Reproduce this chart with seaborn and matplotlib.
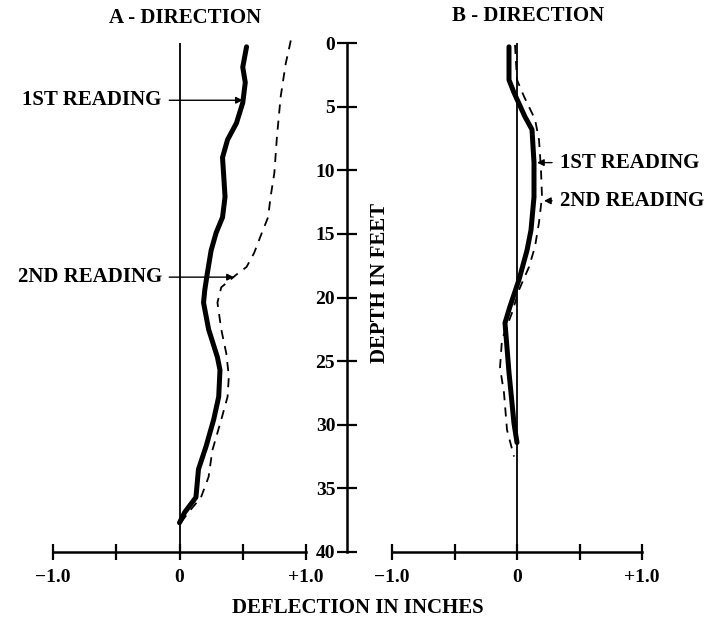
import matplotlib
matplotlib.use("Agg")
import matplotlib.pyplot as plt
import seaborn as sns
import numpy as np

# A - direction, 1st reading (solid)
a1_depth = [0.3, 1.9, 3.1, 4.7, 6.3, 7.6, 9.0, 10.5, 12.1, 13.7, 14.9, 16.3, 18.1, 19.4,
            20.4, 22.5, 24.7, 25.7, 27.8, 29.6, 31.7, 33.5, 35.7, 36.9, 37.7]
a1_defl = [0.53, 0.50, 0.52, 0.50, 0.45, 0.38, 0.34, 0.35, 0.36, 0.34, 0.29, 0.25, 0.22, 0.20,
           0.19, 0.23, 0.30, 0.32, 0.31, 0.27, 0.21, 0.15, 0.13, 0.04, 0.0]

# A - direction, 2nd reading (dashed)
a2_depth = [-0.2, 1.6, 4.2, 7.4, 10.2, 12.1, 13.7, 15.2, 16.5, 17.6, 18.2, 19.2, 20.4,
            22.5, 24.4, 26.2, 27.8, 29.6, 32.0, 34.1, 35.7, 36.9, 37.7]
a2_defl = [0.88, 0.84, 0.80, 0.77, 0.75, 0.72, 0.70, 0.64, 0.59, 0.53, 0.45, 0.33, 0.30,
           0.33, 0.37, 0.39, 0.38, 0.33, 0.26, 0.23, 0.17, 0.07, 0.01]

# B - direction, 1st reading (solid)
b1_depth = [0.3, 2.9, 3.9, 5.8, 6.8, 9.4, 12.1, 14.7, 16.3, 18.6, 20.7, 22.0, 25.9, 29.9, 31.4]
b1_defl = [-0.064, -0.064, -0.024, 0.064, 0.12, 0.136, 0.136, 0.112, 0.08, 0.016, -0.056,
           -0.096, -0.064, -0.024, 0.0]

# B - direction, 2nd reading (dashed)
b2_depth = [0.15, 2.9, 4.2, 6.0, 7.6, 10.0, 12.1, 14.1, 16.0, 17.6, 19.4, 21.2, 23.3, 25.5,
            27.5, 30.4, 32.5]
b2_defl = [-0.016, 0.0, 0.056, 0.144, 0.176, 0.192, 0.2, 0.176, 0.144, 0.096, 0.016, -0.04,
           -0.12, -0.136, -0.104, -0.08, -0.024]

x_ticks = [-1.0, -0.5, 0.0, 0.5, 1.0]
x_tick_labels = ["\u22121.0", "", "0", "", "+1.0"]
depth_ticks = [0, 5, 10, 15, 20, 25, 30, 35, 40]

W, H = 725, 625


def style_panel(ax):
    sns.despine(ax=ax, left=True, top=True, right=True)
    ax.spines["bottom"].set_linewidth(1.8)
    ax.spines["bottom"].set_color("black")
    ax.set_xlim(-1.0, 1.0)
    ax.set_ylim(40, 0)
    ax.set_xticks(x_ticks)
    ax.set_xticklabels(x_tick_labels, fontsize=14, fontweight="bold")
    ax.set_yticks([])
    ax.tick_params(axis="x", bottom=True, direction="inout", length=11, width=1.6,
                   pad=7, color="black", labelcolor="black")
    ax.set_xlabel("")
    ax.set_ylabel("")
    ax.axvline(0, color="black", lw=1.3)
    ax.patch.set_alpha(0)


def main():
    sns.set_style("white")
    plt.rcParams["font.family"] = ["Liberation Serif", "DejaVu Serif"]
    plt.rcParams["font.weight"] = "bold"
    plt.rcParams["text.color"] = "black"

    fig = plt.figure(figsize=(W / 100, H / 100), dpi=100)
    bottom = (H - 552) / H
    height = 509 / H
    axA = fig.add_axes([53 / W, bottom, 253 / W, height])
    axB = fig.add_axes([392 / W, bottom, 250 / W, height])
    axD = fig.add_axes([347 / W, bottom, 0.0005, height])

    solid = dict(color="black", lw=3.6, sort=False, estimator=None, legend=False,
                 solid_joinstyle="round", solid_capstyle="round")
    dashed = dict(color="black", lw=1.3, linestyle=(0, (5, 4)), sort=False,
                  estimator=None, legend=False)

    sns.lineplot(x=a1_defl, y=a1_depth, ax=axA, **solid)
    sns.lineplot(x=a2_defl, y=a2_depth, ax=axA, clip_on=False, **dashed)
    sns.lineplot(x=b1_defl, y=b1_depth, ax=axB, **solid)
    sns.lineplot(x=b2_defl, y=b2_depth, ax=axB, **dashed)

    style_panel(axA)
    style_panel(axB)

    # depth axis in the middle
    sns.despine(ax=axD, left=False, bottom=True, top=True, right=True)
    axD.spines["left"].set_linewidth(1.8)
    axD.spines["left"].set_color("black")
    axD.set_ylim(40, 0)
    axD.set_xticks([])
    axD.set_yticks(depth_ticks)
    axD.set_yticklabels([str(t) for t in depth_ticks], fontsize=14, fontweight="bold")
    axD.tick_params(axis="y", left=True, direction="inout", length=15, width=1.6, pad=1,
                    color="black", labelcolor="black")
    axD.patch.set_alpha(0)

    arrow = dict(arrowstyle="-|>", color="black", lw=1.0, mutation_scale=10,
                 shrinkA=3, shrinkB=0)
    txt = dict(fontsize=15, fontweight="bold", va="center", annotation_clip=False)
    axA.annotate("1ST READING", xy=(0.50, 4.5), xytext=(-0.14, 4.5), ha="right",
                 arrowprops=arrow, **txt)
    axA.annotate("2ND READING", xy=(0.43, 18.4), xytext=(-0.14, 18.4), ha="right",
                 arrowprops=arrow, **txt)
    axB.annotate("1ST READING", xy=(0.16, 9.4), xytext=(0.34, 9.4), ha="left",
                 arrowprops=arrow, **txt)
    axB.annotate("2ND READING", xy=(0.216, 12.4), xytext=(0.34, 12.4), ha="left",
                 arrowprops=arrow, **txt)

    fig.text(185 / W, 1 - 18 / H, "A - DIRECTION", fontsize=15, fontweight="bold",
             ha="center", va="center")
    fig.text(528 / W, 1 - 16 / H, "B - DIRECTION", fontsize=15, fontweight="bold",
             ha="center", va="center")
    fig.text(358 / W, 1 - 608 / H, "DEFLECTION IN INCHES", fontsize=15, fontweight="bold",
             ha="center", va="center")
    fig.text(380 / W, 1 - 283 / H, "DEPTH IN FEET", fontsize=15, fontweight="bold",
             ha="center", va="center", rotation=90)

    fig.savefig("out.png", dpi=100, facecolor="white")


if __name__ == "__main__":
    main()
